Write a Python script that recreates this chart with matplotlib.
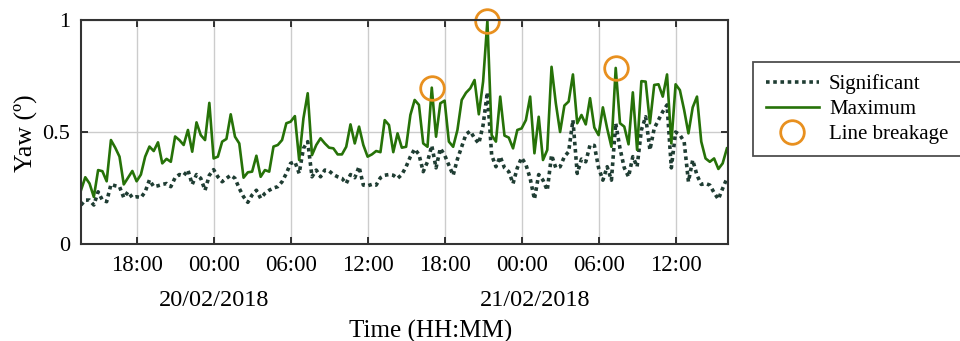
import matplotlib
matplotlib.use("Agg")
import matplotlib.pyplot as plt
import matplotlib.dates as mdates
import matplotlib.transforms as mtransforms
from matplotlib.lines import Line2D
import pandas as pd

# samples every 20 min, starting 19/02/2018 13:40
start_time = "2018-02-19 13:40"
sample_step = "20min"

yaw_max = [
    0.24, 0.298, 0.27, 0.21, 0.33, 0.325, 0.28, 0.464, 0.43, 0.39,
    0.266, 0.296, 0.326, 0.28, 0.31, 0.39, 0.435, 0.415, 0.454, 0.36,
    0.38, 0.367, 0.48, 0.464, 0.442, 0.509, 0.412, 0.543, 0.486, 0.464,
    0.63, 0.382, 0.39, 0.457, 0.469, 0.579, 0.479, 0.449, 0.296, 0.32,
    0.323, 0.394, 0.3, 0.33, 0.323, 0.435, 0.442, 0.464, 0.539, 0.546,
    0.571, 0.375, 0.561, 0.673, 0.397, 0.442, 0.472, 0.449, 0.43, 0.427,
    0.4, 0.4, 0.434, 0.534, 0.449, 0.524, 0.442, 0.39, 0.4, 0.415,
    0.41, 0.553, 0.531, 0.41, 0.494, 0.43, 0.434, 0.576, 0.643, 0.621,
    0.449, 0.434, 0.698, 0.479, 0.628, 0.64, 0.457, 0.434, 0.509, 0.643,
    0.675, 0.695, 0.732, 0.579, 0.725, 0.996, 0.486, 0.457, 0.658, 0.484,
    0.475, 0.427, 0.509, 0.516, 0.553, 0.658, 0.405, 0.568, 0.375, 0.42,
    0.791, 0.628, 0.5, 0.618, 0.636, 0.757, 0.539, 0.576, 0.534, 0.651,
    0.52, 0.486, 0.61, 0.516, 0.434, 0.786, 0.539, 0.524, 0.445, 0.677,
    0.42, 0.727, 0.725, 0.539, 0.71, 0.713, 0.658, 0.757, 0.449, 0.713,
    0.687, 0.598, 0.494, 0.61, 0.658, 0.457, 0.382, 0.367, 0.382, 0.335,
    0.36, 0.427,
]

yaw_sig = [
    0.174, 0.196, 0.196, 0.174, 0.233, 0.196, 0.189, 0.266, 0.26, 0.256,
    0.207, 0.233, 0.207, 0.211, 0.207, 0.233, 0.286, 0.256, 0.26, 0.266,
    0.27, 0.256, 0.296, 0.31, 0.305, 0.33, 0.266, 0.31, 0.293, 0.24,
    0.307, 0.332, 0.3, 0.278, 0.293, 0.307, 0.293, 0.248, 0.211, 0.186,
    0.219, 0.24, 0.204, 0.226, 0.24, 0.25, 0.256, 0.278, 0.315, 0.36,
    0.367, 0.315, 0.427, 0.457, 0.3, 0.33, 0.3, 0.33, 0.326, 0.31,
    0.3, 0.293, 0.27, 0.31, 0.296, 0.345, 0.263, 0.26, 0.266, 0.263,
    0.296, 0.307, 0.31, 0.307, 0.293, 0.31, 0.345, 0.39, 0.424, 0.4,
    0.323, 0.367, 0.439, 0.34, 0.427, 0.397, 0.352, 0.307, 0.379, 0.434,
    0.49, 0.504, 0.472, 0.449, 0.531, 0.677, 0.397, 0.345, 0.39, 0.34,
    0.323, 0.27, 0.34, 0.385, 0.355, 0.293, 0.2, 0.31, 0.285, 0.24,
    0.397, 0.34, 0.345, 0.39, 0.412, 0.553, 0.315, 0.379, 0.367, 0.442,
    0.44, 0.34, 0.285, 0.345, 0.285, 0.539, 0.427, 0.34, 0.3, 0.39,
    0.345, 0.509, 0.568, 0.42, 0.516, 0.553, 0.591, 0.621, 0.34, 0.5,
    0.487, 0.457, 0.278, 0.375, 0.307, 0.266, 0.27, 0.263, 0.229, 0.2,
    0.248, 0.293,
]

# samples where the line broke (circled)
breakage_idx = [82, 95, 125]

date_labels = ["20/02/2018", "21/02/2018"]
date_label_pos = ["2018-02-20 00:00", "2018-02-21 01:05"]

times = pd.date_range(start_time, periods=len(yaw_max), freq=sample_step)

plt.rcParams["font.family"] = ["Liberation Serif", "DejaVu Serif"]

fig = plt.figure(figsize=(9.6, 3.41), dpi=100)
ax = fig.add_axes([81 / 960, 1 - 244 / 341, 647 / 960, 224 / 341])

green = "#267208"
dark = "#1f3d33"
orange = "#e8901f"

ax.plot(times, yaw_sig, color=dark, lw=2.6, ls=(0, (1, 1)), label="Significant")
ax.plot(times, yaw_max, color=green, lw=1.9, label="Maximum")
ax.plot(times[breakage_idx], [yaw_max[i] for i in breakage_idx], ls="none",
        marker="o", ms=17, mfc="none", mec=orange, mew=2, clip_on=False,
        label="Line breakage")

ax.set_xlim(pd.Timestamp("2018-02-19 13:40"), pd.Timestamp("2018-02-21 16:05"))
ax.set_ylim(0, 1)
ax.set_yticks([0, 0.5, 1])
ax.set_yticklabels(["0", "0.5", "1"])
ax.xaxis.set_major_locator(mdates.HourLocator(byhour=[0, 6, 12, 18]))
ax.xaxis.set_major_formatter(mdates.DateFormatter("%H:%M"))

ax.grid(True, color="#cccccc", lw=1)
ax.set_axisbelow(True)
for s in ax.spines.values():
    s.set_linewidth(1.5)
    s.set_color("#333333")
ax.tick_params(direction="in", top=True, right=True, length=5, width=1.3, color="#222222")
ax.tick_params(axis="x", labelsize=16.5, pad=8)
ax.tick_params(axis="y", labelsize=16, pad=8)

# date under the hour labels
trans = mtransforms.blended_transform_factory(ax.transData, fig.transFigure)
for lab, pos in zip(date_labels, date_label_pos):
    ax.text(pd.Timestamp(pos), 1 - 300 / 341, lab, transform=trans,
            ha="center", va="center", fontsize=17.5)

fig.text(431 / 960, 1 - 331 / 341, "Time (HH:MM)", ha="center", va="center", fontsize=18)
fig.text(25 / 960, 1 - 133 / 341, "Yaw (º)", ha="center", va="center",
         rotation=90, fontsize=18.5)

handles = [
    Line2D([], [], color=dark, lw=2.6, ls=(0, (1, 1))),
    Line2D([], [], color=green, lw=1.9),
    Line2D([], [], ls="none", marker="o", ms=17, mfc="none", mec=orange, mew=2),
]
leg = fig.legend(handles, ["Significant", "Maximum", "Line breakage"],
                 loc="upper left", bbox_to_anchor=(753 / 960, 1 - 62 / 341),
                 fontsize=15, frameon=True, fancybox=False, edgecolor="#222222",
                 handlelength=2.55, handletextpad=0.5, borderpad=0.6,
                 labelspacing=0.25, borderaxespad=0)
leg.get_frame().set_linewidth(1.3)

fig.savefig("out.png", dpi=100)
